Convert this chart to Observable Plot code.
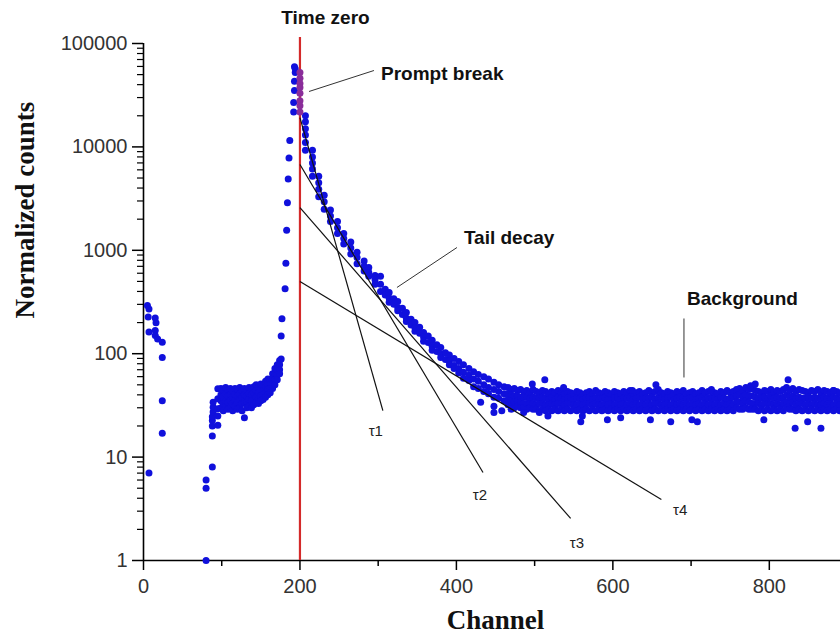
<!DOCTYPE html>
<html><head><meta charset="utf-8">
<script src="https://cdn.jsdelivr.net/npm/d3@7"></script>
<script src="https://cdn.jsdelivr.net/npm/@observablehq/plot@0.6"></script>
<style>body{margin:0;background:#fff} svg{display:block}</style>
</head><body><div id="chart"></div>
<script>
// ---- data: [channel, counts...] ----
const early = [[5,292],[7,270],[6,226],[15,222],[16,199],[7,162],[15,168],[15,150],[18,139],[24,129],[24,92],[24,35],[24,17],[7,7]];
const rise1 = [[80,1],[80,5],[80,6],[88,8],[88,16],[88,20],[88,22.6],[88,24.5],[89,27.3],[89,30.4],[89,34],[95,20.3],[95,25],[95,29.3],[95,36.6],[95,45.7]];
const plateau = [[99,46,40,35,30],[102,44,38,33,28],[105,47,41,35,31],[108,45,39,34,29],[111,46,40,35,30],[114,44,38,33,28],[117,46,40,35,31],[120,45,39,34,29],[123,47,41,36,30],[126,44,38,33,28],[129,46,40,34,24],[132,44,39,34,30],[135,47,41,36,31],[138,45,40,35,30],[141,48,42,36,32],[144,50,44,38,34],[147,47,42,37,33],[150,51,45,39,35],[153,49,44,40,36],[156,54,48,42,38],[159,57,51,45,40],[162,56,51,46,42],[165,64,57,51,46],[168,72,64,56,50],[171,78,70,62,56],[174,86,78,70,64]];
const peak = [[176,89],[176,148],[177,218],[181,425],[182,750],[183,1560],[184,2880],[185,4900],[186,7800],[187,11500],[192,21700],[192,26900],[193,35100],[193,43200],[194,52500],[194,56900],[193,59500]];
const prompt = [[200,52500],[200,46000],[200,41000],[200,37600],[200,33000],[200,28000],[200,25000],[200,21700]];
const decay = [
[207,20000,17500,15000,13000,11000,9300],[216,9300,8000,7000,6100,5200],[224,5200,4500,3900,3300],
[231,3400,2950,2500],[239,2450,2150,1900],[248,1900,1650,1450],[256,1450,1300,1150],[265,1200,1050,920],
[273,960,850,740],[282,790,700,630],[288,680,610,560],[296,570,520,470],[303,560,470,400],[309,420,370],
[314,390,345,315],[320,340,300],[325,320,280,260],[331,275,240],[336,250,220,205],[342,215,190],
[347,200,178,165],[353,180,158],[358,160,145,132],[364,148,128],[369,135,118,108],[375,122,105],
[380,115,100,92],[386,102,88],[391,97,85,78],[397,90,77,72],[403,84,72,65],[409,78,66,58],
[416,72,62,55],[422,67,57,48],[428,63,54,46],[435,60,50,43],[441,57,47,41],[448,53,45,38],
[454,50,43,37],[461,48,41,35]];
const background = [
[466,47,41,36,32],[470,45,40,35,31],[474,46,39,34,30],[478,44,39,35,31],[482,45,38,34,30],[486,43,38,33,30],[490,44,38,33,29],[494,42,37,33,30],
[498,45,38,33,29],[502,43,37,32,29],[506,42,37,33,28],[510,44,38,33,29],[514,43,37,32,28],[518,41,36,32,29],[522,43,38,33,28],[526,42,36,32,29],
[530,44,38,33,28],[534,42,37,33,29],[538,41,36,32,28],[542,43,37,33,29],[546,42,38,33,28],[550,41,36,32,29],[554,43,37,32,28],[558,42,37,33,29],
[562,40,36,32,28],[566,42,37,33,29],[570,43,38,33,28],[574,41,36,32,29],[578,44,37,33,28],[582,42,36,32,29],[586,41,37,32,28],[590,43,38,33,29],
[594,42,36,32,28],[598,40,36,33,29],[602,43,37,32,28],[606,42,38,33,29],[610,41,36,32,28],[614,43,37,33,29],[618,42,37,32,28],[622,44,38,33,29],
[626,41,36,32,28],[630,42,37,33,29],[634,43,38,32,28],[638,41,36,33,29],[642,42,37,32,28],[646,44,37,33,29],[650,42,38,32,28],[654,43,36,33,29],
[658,45,38,33,28],[662,42,37,32,29],[666,41,36,32,28],[670,43,37,33,29],[674,42,38,32,28],[678,41,36,33,29],[682,43,37,32,28],[686,42,38,33,29],
[690,44,37,32,28],[694,41,36,33,29],[698,42,37,32,28],[702,43,38,33,29],[706,41,36,32,28],[710,42,37,33,29],[714,44,38,32,28],[718,42,36,33,29],
[722,43,37,32,28],[726,45,38,33,29],[730,42,37,32,28],[734,41,36,33,29],[738,43,38,32,28],[742,42,37,33,29],[746,44,36,32,28],[750,42,37,33,29],
[754,43,38,32,28],[758,45,39,34,30],[762,46,40,34,29],[766,44,38,33,29],[770,47,40,35,30],[774,45,39,34,29],[778,46,39,33,29],[782,44,38,33,29],
[786,43,37,33,28],[790,42,37,32,29],[794,44,38,33,28],[798,43,37,33,29],[802,45,39,33,28],[806,42,37,32,29],[810,44,38,33,28],[814,43,37,32,29],
[818,45,38,33,28],[822,47,40,34,30],[826,44,38,33,29],[830,46,39,34,29],[834,43,37,32,28],[838,45,38,33,29],[842,44,37,33,28],[846,43,37,32,29],
[850,42,38,33,28],[854,44,37,32,29],[858,43,38,33,28],[862,45,37,32,29],[866,42,36,32,28],[870,44,38,33,29],[874,43,37,32,28],[878,42,36,33,29],
[882,44,38,32,28],[886,43,37,33,29],[890,42,36,32,28]];
const outliers = [[431,34],[448,31],[448,27],[458,28],[470,29],[486,27],[497,51],[506,27],[513,56],[517,25],[537,47],[559,22],[561,25],[593,23],[610,24],[625,44],[648,23],[655,50],[674,22],[701,23],[708,22],[725,44],[776,49],[782,51],[793,23],[824,56],[833,19],[849,22],[866,19],[882,44]];

// fitted lifetime lines: [x1, y1, x2, y2]
const tauLines = [[200,19200,306,28.2],[200,6760,434,7.1],[200,2590,546,2.55],[200,499,662,3.89]];
const tauLabels = [["τ1",297,17.7],["τ2",430,4.25],["τ3",554,1.46],["τ4",686,3.04]];
// annotations: [text, x, y baseline]
const notes = [["Prompt break",303.6,43900],["Tail decay",409.6,1138],["Background",694.8,299]];
const leaders = [[211.6,34350,294.6,54800],[324,437,400.7,1064],[690.9,219,690.9,58.9]];
const timeZero = 200;

const xMajor = [0,200,400,600,800];
const xMinor = [100,300,500,700];
const yMajor = [1,10,100,1000,10000,100000];
const yMinor = [2,3,4,5,6,7,8,9,20,30,40,50,60,70,80,90,200,300,400,500,600,700,800,900,2000,3000,4000,5000,6000,7000,8000,9000,20000,30000,40000,50000,60000,70000,80000,90000];

// ---- build point table ----
const pts = [];
for (const rows of [early, rise1, plateau, peak, decay, background, outliers])
  for (const [c, ...vs] of rows) for (const v of vs) pts.push({c, v});
const promptPts = prompt.map(([c, v]) => ({c, v}));

const sans = "Liberation Sans, Arial, sans-serif";
const serif = "Liberation Serif, Times New Roman, serif";
const chart = Plot.plot({
  width: 840, height: 643,
  marginLeft: 143, marginRight: 0, marginTop: 43, marginBottom: 83,
  style: {fontFamily: sans, background: "white", color: "#000"},
  x: {domain: [0, 891]},
  y: {type: "log", domain: [1, 100000]},
  marks: [
    Plot.axisX({ticks: xMajor, tickSize: 10, tickPadding: 8, fontSize: 20, tickFormat: d => String(d), label: null, stroke: "#000", fill: "#333", strokeWidth: 1.5}),
    Plot.axisX({ticks: xMinor, tickSize: 6, tickFormat: () => "", label: null, stroke: "#000", strokeWidth: 1.5}),
    Plot.axisY({ticks: yMajor, tickSize: 11, tickPadding: 5, fontSize: 20, tickFormat: d => String(d), label: null, stroke: "#000", fill: "#333", strokeWidth: 1.5}),
    Plot.axisY({ticks: yMinor, tickSize: 6, tickFormat: () => "", label: null, stroke: "#000", strokeWidth: 1.2}),
    Plot.ruleX([0], {y1: 1, y2: 100000, stroke: "#000", strokeWidth: 1.6}),
    Plot.ruleY([1], {stroke: "#000", strokeWidth: 1.6}),
    Plot.dot(pts, {x: "c", y: "v", r: 3.5, fill: "#1010dc", stroke: "none"}),
    Plot.ruleX([timeZero], {y1: 1, y2: 114000, stroke: "#d42a2a", strokeWidth: 2.2}),
    Plot.dot(promptPts, {x: "c", y: "v", r: 3.5, fill: "#8a2d9a", stroke: "none"}),
    Plot.link(tauLines, {x1: d => d[0], y1: d => d[1], x2: d => d[2], y2: d => d[3], stroke: "#111", strokeWidth: 1.2}),
    Plot.link(leaders, {x1: d => d[0], y1: d => d[1], x2: d => d[2], y2: d => d[3], stroke: "#333", strokeWidth: 1}),
    Plot.text(tauLabels, {text: d => d[0], x: d => d[1], y: d => d[2], fontSize: 15, fill: "#222", fontFamily: sans}),
    Plot.text(notes, {text: d => d[0], x: d => d[1], y: d => d[2], textAnchor: "start", lineAnchor: "bottom", fontSize: 19, fontWeight: "bold", fill: "#111"}),
    Plot.text(["Time zero"], {x: 232.6, y: 156000, lineAnchor: "bottom", fontSize: 19, fontWeight: "bold", fill: "#111"}),
    Plot.text(["Normalized counts"], {frameAnchor: "left", rotate: -90, dx: -118, dy: 16.5, fontSize: 27, fontWeight: "bold", fontFamily: serif, fill: "#111"}),
    Plot.text(["Channel"], {frameAnchor: "bottom", dx: 3.5, dy: 68.4, fontSize: 27, fontWeight: "bold", fontFamily: serif, fill: "#111"})
  ]
});
document.getElementById("chart").append(chart);
</script>
</body></html>
